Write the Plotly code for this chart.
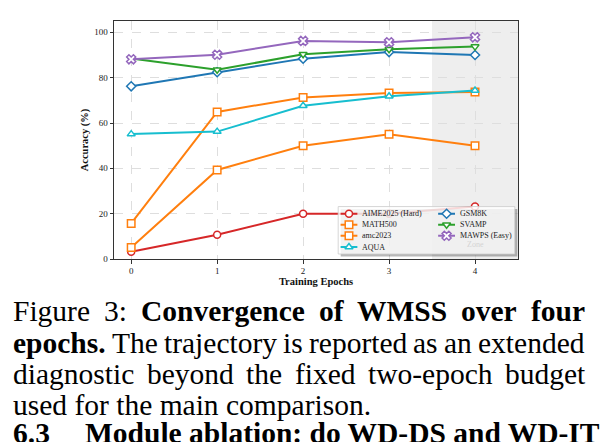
import plotly.graph_objects as go

# ---------------- data ----------------
epochs = [0, 1, 2, 3, 4]
x_ticks = [0, 1, 2, 3, 4]
y_ticks = [0, 20, 40, 60, 80, 100]

series_names = ["AIME2025 (Hard)", "MATH500", "amc2023", "AQUA", "GSM8K", "SVAMP", "MAWPS (Easy)"]
aime2025 = [3.2, 10.7, 20.0, 20.0, 23.2]
math500 = [15.7, 64.9, 71.3, 73.2, 73.7]
amc2023 = [5.1, 39.3, 50.0, 55.0, 50.0]
aqua = [55.1, 56.2, 67.6, 71.8, 74.3]
gsm8k = [76.2, 82.4, 88.4, 91.3, 90.0]
svamp = [88.5, 83.5, 90.3, 92.5, 93.7]
mawps = [88.1, 90.1, 96.2, 95.6, 97.8]
series_values = [aime2025, math500, amc2023, aqua, gsm8k, svamp, mawps]

colors = ["#d62728", "#ff7f0e", "#ff7f0e", "#17becf", "#1f77b4", "#2ca02c", "#9467bd"]
symbols = ["circle", "square", "square", "triangle-up", "diamond", "triangle-down", "x"]
msizes = [7, 7.5, 7.5, 7, 7, 7, 8]

shade_range = [3.5, 4.5]
zone_label = "Zone"

x_title = "Training Epochs"
y_title = "Accuracy (%)"

# ---------------- layout constants (pixels) ----------------
W, H = 601, 442
PL, PR, PT, PB = 114, 518.2, 21, 259.3
SERIF = "Liberation Serif"


def px_x(px):
    return (px - PL) / (PR - PL)


def px_y(py):
    return (PB - py) / (PB - PT)


fig = go.Figure()

for name, vals, c, s, ms in zip(series_names, series_values, colors, symbols, msizes):
    fig.add_trace(go.Scatter(
        x=epochs, y=vals, name=name, mode="lines+markers",
        line=dict(color=c, width=2),
        marker=dict(symbol=s, size=ms, color="white", line=dict(color=c, width=1.5)),
        showlegend=False, hoverinfo="skip",
    ))

# shaded zone
fig.add_shape(type="rect", xref="x", yref="paper", x0=shade_range[0], x1=shade_range[1],
              y0=0, y1=1, fillcolor="#eeeeee", line_width=0, layer="below")

# ---------------- legend (drawn in an overlay pixel-unit axis) ----------------
LG_L, LG_R, LG_T, LG_B = 338.3, 515, 206.8, 254.3
SH = 2.5
fig.add_trace(go.Scatter(
    x=[LG_L + SH, LG_R + SH, LG_R + SH, LG_L + SH, LG_L + SH],
    y=[LG_T + SH, LG_T + SH, LG_B + SH, LG_B + SH, LG_T + SH],
    xaxis="x2", yaxis="y2", mode="lines", fill="toself",
    fillcolor="rgba(0,0,0,0.28)", line=dict(width=0), showlegend=False, hoverinfo="skip"))
fig.add_trace(go.Scatter(
    x=[LG_L, LG_R, LG_R, LG_L, LG_L],
    y=[LG_T, LG_T, LG_B, LG_B, LG_T],
    xaxis="x2", yaxis="y2", mode="lines", fill="toself",
    fillcolor="rgba(255,255,255,0.82)", line=dict(width=0.8, color="#cccccc"),
    showlegend=False, hoverinfo="skip"))

col_line_x = [(340.7, 357.5), (438.3, 455.2)]
col_text_x = [362.5, 460.0]
row_y = [214.0, 225.0, 236.0, 247.3]
entry_pos = [(0, 0), (0, 1), (0, 2), (0, 3), (1, 0), (1, 1), (1, 2)]

for name, c, s, ms, (col, row) in zip(series_names, colors, symbols, msizes, entry_pos):
    x0, x1 = col_line_x[col]
    yy = row_y[row]
    fig.add_trace(go.Scatter(
        x=[x0, (x0 + x1) / 2, x1], y=[yy, yy, yy], xaxis="x2", yaxis="y2",
        mode="lines+markers", line=dict(color=c, width=2),
        marker=dict(symbol=s, size=ms, color="white", opacity=[0, 1, 0],
                    line=dict(color=c, width=1.5)),
        showlegend=False, hoverinfo="skip"))
    fig.add_annotation(x=col_text_x[col], y=yy, xref="x2", yref="y2", text=name,
                       showarrow=False, xanchor="left", yanchor="middle",
                       font=dict(family=SERIF, size=8, color="#222222"),
                       borderpad=0, borderwidth=0)

fig.add_annotation(x=4, y=6.5, xref="x", yref="y", text=zone_label, showarrow=False,
                   font=dict(family=SERIF, size=8, color="#d4d4d4"), borderpad=0)

# ---------------- caption text ----------------
W_REG = {" ": 250, "a": 444, "b": 500, "c": 444, "d": 500, "e": 444, "f": 333, "g": 500,
         "h": 500, "i": 278, "j": 278, "k": 500, "l": 278, "m": 778, "n": 500, "o": 500,
         "p": 500, "q": 500, "r": 333, "s": 389, "t": 278, "u": 500, "v": 500, "w": 722,
         "x": 500, "y": 500, "z": 444, ".": 250, ":": 278, "-": 333, "F": 556, "T": 611,
         "0": 500, "1": 500, "2": 500, "3": 500}
W_BOLD = {" ": 250, "a": 500, "b": 556, "c": 444, "d": 556, "e": 444, "f": 333, "g": 500,
          "h": 556, "i": 278, "l": 278, "n": 556, "o": 500, "p": 556, "r": 444, "s": 389,
          "t": 333, "u": 556, "v": 500, ".": 250, ":": 333, "-": 333, "C": 722, "D": 722,
          "I": 389, "M": 944, "S": 556, "T": 667, "W": 1000, "6": 500, "3": 500}
CAP_FS = 29.5
CAP_L, CAP_R = 13, 585


def word_w(word, bold):
    t = W_BOLD if bold else W_REG
    return sum(t.get(ch, 500) for ch in word) / 1000 * CAP_FS


def add_word(text, x, baseline, bold):
    fig.add_annotation(
        x=px_x(x), y=px_y(baseline - 0.34 * CAP_FS), xref="paper", yref="paper",
        text=("<b>%s</b>" % text) if bold else text, showarrow=False,
        xanchor="left", yanchor="middle", borderpad=0, borderwidth=0,
        font=dict(family=SERIF, size=CAP_FS, color="#000000"))


caption_lines = [
    ([("Figure", 0), ("3:", 0), ("Convergence", 1), ("of", 1), ("WMSS", 1), ("over", 1), ("four", 1)], True, 321.5),
    ([("epochs.", 1), ("The", 0), ("trajectory", 0), ("is", 0), ("reported", 0), ("as", 0), ("an", 0), ("extended", 0)], True, 353.0),
    ([("diagnostic", 0), ("beyond", 0), ("the", 0), ("fixed", 0), ("two-epoch", 0), ("budget", 0)], True, 384.5),
    ([("used for the main comparison.", 0)], False, 416.0),
]
for words, justify, base in caption_lines:
    if justify:
        widths = [word_w(w, b) for w, b in words]
        gap = (CAP_R - CAP_L - sum(widths)) / (len(words) - 1)
        x = CAP_L
        for (w, b), ww in zip(words, widths):
            add_word(w, x, base, b)
            x += ww + gap
    else:
        add_word(words[0][0], CAP_L, base, words[0][1])

add_word("6.3", 13, 444.0, True)
add_word("Module ablation: do WD-DS and WD-IT", 85, 444.0, True)

# ---------------- axes ----------------
axis_common = dict(showline=True, linecolor="#333333", linewidth=1, mirror=True,
                   ticks="outside", ticklen=3.5, tickwidth=0.8, tickcolor="#333333",
                   showgrid=True, gridcolor="#dedede", gridwidth=0.7, griddash="dash",
                   zeroline=False, tickfont=dict(family=SERIF, size=9, color="#222222"))

fig.update_layout(
    width=W, height=H, margin=dict(l=PL, r=W - PR, t=PT, b=H - PB, pad=0),
    paper_bgcolor="white", plot_bgcolor="white", showlegend=False,
    xaxis=dict(range=[-0.2, 4.5], tickvals=x_ticks, **axis_common,
               title=dict(text="<b>%s</b>" % x_title, standoff=1,
                          font=dict(family=SERIF, size=10.5, color="#111111"))),
    yaxis=dict(range=[0, 105], tickvals=y_ticks, **axis_common,
               title=dict(text="<b>%s</b>" % y_title, standoff=3,
                          font=dict(family=SERIF, size=10.5, color="#111111"))),
    xaxis2=dict(overlaying="x", anchor="y2", range=[PL, PR], visible=False, fixedrange=True),
    yaxis2=dict(overlaying="y", anchor="x2", range=[PB, PT], visible=False, fixedrange=True),
)

fig.write_html("out.html")
